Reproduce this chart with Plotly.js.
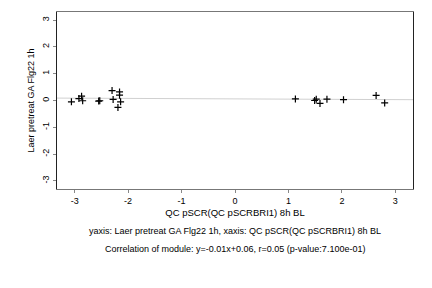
<!DOCTYPE html>
<html>
<head>
<meta charset="utf-8">
<script src="https://cdn.plot.ly/plotly-3.0.1.min.js"></script>
<style>html,body{margin:0;padding:0;background:#fff;}#chart{width:432px;height:288px;}</style>
</head>
<body>
<div id="chart"></div>
<script>
const xVals = [-3.06, -2.92, -2.87, -2.85, -2.53, -2.55, -2.30, -2.28, -2.16, -2.16, -2.14, -2.19,
               1.13, 1.49, 1.52, 1.59, 1.72, 2.03, 2.64, 2.80];
const yVals = [-0.05, 0.07, 0.16, -0.01, -0.01, -0.02, 0.37, 0.04, 0.32, 0.20, -0.05, -0.26,
               0.06, 0.00, 0.05, -0.11, 0.05, 0.03, 0.19, -0.09];
const fitX = [-3.33, 3.33];
const fitY = [0.09, 0.03];
const tickVals = [-3, -2, -1, 0, 1, 2, 3];
const xTitle = "QC pSCR(QC pSCRBRI1) 8h BL";
const yTitle = "Laer pretreat GA Flg22 1h";
const caption1 = "yaxis: Laer pretreat GA Flg22 1h, xaxis: QC pSCR(QC pSCRBRI1) 8h BL";
const caption2 = "Correlation of module: y=-0.01x+0.06, r=0.05 (p-value:7.100e-01)";

const font = {family: "Liberation Sans, Arial, sans-serif", size: 9, color: "#000"};
const titleFont = {family: "Liberation Sans, Arial, sans-serif", size: 9.5, color: "#000"};

const traces = [
  {x: fitX, y: fitY, mode: "lines", line: {color: "#d0d0d0", width: 1}, hoverinfo: "skip"},
  {x: xVals, y: yVals, mode: "markers",
   marker: {symbol: "cross-thin", size: 5, color: "#000", line: {color: "#000", width: 1.2}}}
];

const layout = {
  width: 432, height: 288,
  margin: {l: 57, r: 19, t: 12, b: 99},
  paper_bgcolor: "#fff", plot_bgcolor: "#fff",
  showlegend: false,
  font: font,
  xaxis: {
    range: [-3.33, 3.33], tickvals: tickVals, ticktext: tickVals.map(String),
    showgrid: false, zeroline: false,
    ticks: "outside", ticklen: 3, tickcolor: "#888",
    showline: true, linecolor: "#777", linewidth: 1, mirror: true,
    tickfont: font,
    title: {text: xTitle, font: titleFont, standoff: 4}
  },
  yaxis: {
    range: [-3.3, 3.3], tickvals: tickVals, ticktext: tickVals.map(String),
    showgrid: false, zeroline: false,
    ticks: "outside", ticklen: 3, tickcolor: "#888", tickangle: -90,
    showline: true, linecolor: "#222", linewidth: 1, mirror: true,
    tickfont: font,
    title: {text: yTitle, font: font, standoff: 5}
  },
  annotations: [
    {text: caption1, xref: "paper", yref: "paper", x: 0.5, y: -0.237,
     xanchor: "center", yanchor: "middle", showarrow: false, font: font},
    {text: caption2, xref: "paper", yref: "paper", x: 0.5, y: -0.339,
     xanchor: "center", yanchor: "middle", showarrow: false, font: font}
  ]
};

Plotly.newPlot("chart", traces, layout, {staticPlot: true, displayModeBar: false});
</script>
</body>
</html>
